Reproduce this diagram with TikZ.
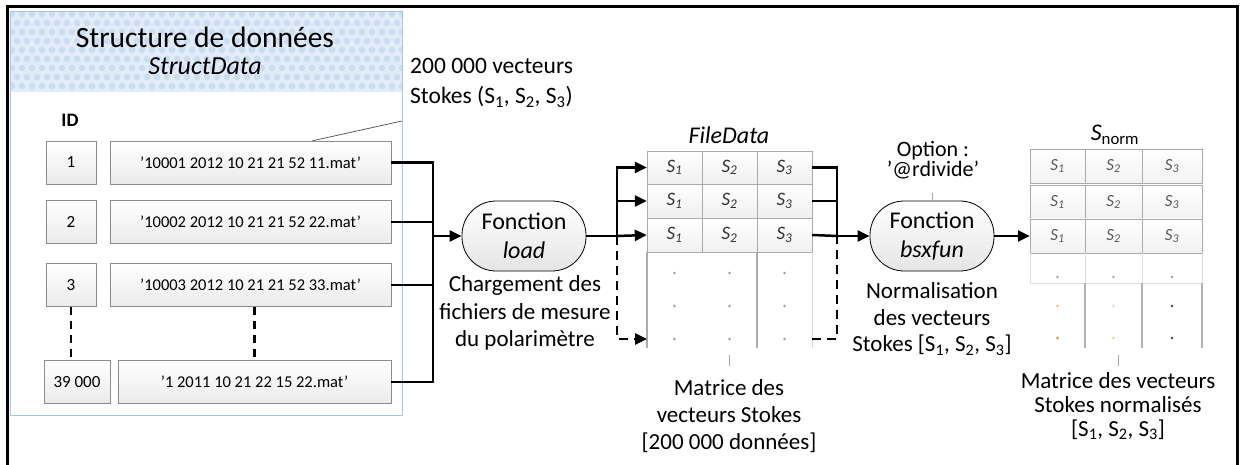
\documentclass[tikz,border=0pt]{standalone}
\usepackage{fontspec}
\setmainfont{Carlito}
\usetikzlibrary{arrows.meta,calc}

\definecolor{panelblue}{RGB}{165,196,230}
\definecolor{headblue}{RGB}{226,236,248}
\definecolor{dotblue}{RGB}{204,221,242}
\definecolor{boxline}{RGB}{140,140,140}
\definecolor{gridg}{RGB}{170,170,170}
\definecolor{dA}{RGB}{140,165,190}
\definecolor{dB}{RGB}{150,175,200}
\definecolor{dC}{RGB}{235,180,120}
\definecolor{dD}{RGB}{190,225,235}
\definecolor{dE}{RGB}{200,130,80}
\definecolor{dF}{RGB}{240,200,140}

\begin{document}
\begin{tikzpicture}[x=1pt,y=-1pt,
  conn/.style={line width=2.5pt},
  arr/.style={conn,-{Triangle[length=12pt,width=11pt]}},
  dconn/.style={conn,dash pattern=on 9pt off 6pt},
  darr/.style={dconn,-{Triangle[length=12pt,width=11pt]}},
  idbox/.style={draw=boxline, top color=white, bottom color=gray!16, minimum height=43pt, inner sep=0pt, font=\fontsize{17}{19}\selectfont},
  filebox/.style={idbox, font=\fontsize{16.5}{18}\selectfont},
  func/.style={draw=black, line width=0.8pt, rounded corners=34pt, top color=white, bottom color=gray!20, minimum width=124pt, minimum height=70pt, align=center, inner sep=0pt, font=\fontsize{24}{29}\selectfont},
  fdcell/.style={draw=gridg, top color=white, bottom color=gray!12, minimum height=33.5pt, inner sep=0pt, text=black!80, font=\itshape\fontsize{19}{20}\selectfont},
  sncell/.style={draw=gridg, top color=white, bottom color=gray!10, minimum height=34pt, inner sep=0pt, text=black!65, font=\itshape\fontsize{17}{18}\selectfont},
  txt/.style={align=center, inner sep=0pt, font=\fontsize{23}{27}\selectfont},
  tick/.style={draw=gray!70, line width=0.8pt},
  dotnode/.style={circle, fill=#1, inner sep=0pt, minimum size=2.6pt}
]
\useasboundingbox (0,0) rectangle (1245,465);

% outer frame
\draw[line width=3pt] (7,466) -- (7,7) -- (1237,7) -- (1237,466);

% panel
\fill[white] (10,12) rectangle (402,415);
\begin{scope}
  \clip (10,12) rectangle (402,92);
  \fill[headblue] (10,12) rectangle (402,92);
  \foreach \i in {0,...,40}
    \foreach \j in {0,...,8}{
      \pgfmathsetmacro{\off}{mod(\j,2)*5}
      \fill[dotblue] (12+\i*10+\off, 14+\j*9) circle (3.3);
    }
\end{scope}
\draw[panelblue, line width=1pt] (10,12) rectangle (402,415);

\node[txt, font=\fontsize{29.5}{32}\selectfont] (title) at (205,37) {Structure de données};
\node[txt, font=\itshape\fontsize{26}{30}\selectfont] (sdname) at (205,66) {StructData};
\node[txt, font=\bfseries\fontsize{19}{22}\selectfont] (idlab) at (70,120) {ID};

% rows
\node[idbox, minimum width=50pt] (id1) at (71,162.5) {1};
\node[idbox, minimum width=50pt] (id2) at (71,222) {2};
\node[idbox, minimum width=50pt] (id3) at (71,285) {3};
\node[idbox, minimum width=66pt] (id4) at (77,382) {39 000};

\node[filebox, minimum width=281pt] (f1) at (250.5,162.5) {'10001 2012 10 21 21 52 11.mat'};
\node[filebox, minimum width=281pt] (f2) at (250.5,222) {'10002 2012 10 21 21 52 22.mat'};
\node[filebox, minimum width=281pt] (f3) at (250.5,285) {'10003 2012 10 21 21 52 33.mat'};
\node[filebox, minimum width=273pt] (f4) at (254.5,382) {'1 2011 10 21 22 15 22.mat'};

\draw[dconn, dash pattern=on 8pt off 6pt] (id3.south) -- (id3.south |- id4.north);
\draw[dconn, dash pattern=on 8pt off 6pt] (f4.north |- f3.south) -- (f4.north);

% callout
\coordinate (callout) at (402,121);
\draw[black!70, line width=0.7pt] ($(f1.north west)!0.72!(f1.north east)$) -- (callout);
\node[txt, align=left, anchor=west, font=\fontsize{23.5}{30}\selectfont] (vect) at (410,83)
  {200 000 vecteurs\\Stokes (S\textsubscript{1}, S\textsubscript{2}, S\textsubscript{3})};

% function load
\node[func] (load) at (524,236) {Fonction\\\textit{load}};
\node[txt, font=\fontsize{23}{27.5}\selectfont] (loadnote) at (525,313) {Chargement des\\fichiers de mesure\\du polarimètre};

% bus from files
\coordinate (bus) at (433,236);
\draw[conn] (f1.east) -| (bus);
\draw[conn] (f2.east) -| (bus);
\draw[conn] (f3.east) -| (bus);
\draw[conn] (f4.east) -| (bus);
\draw[arr] (bus) -- (load.west);

% FileData table
\node[txt, font=\itshape\fontsize{24}{28}\selectfont] (fdtitle) at (729,135) {FileData};
\foreach \r/\y in {1/167.5,2/201,3/235}
  \foreach \c/\x in {1/674.5,2/729.5,3/784.5}
    \node[fdcell, minimum width=55pt] (fd-\r-\c) at (\x,\y) {S\textsubscript{\c}};
\draw[gray!30, line width=1pt] (812,252) -- (812,348);
\draw[gray!65, line width=1.8pt] (647,252) -- (647,348) (757,252) -- (757,348);
\foreach \r/\y in {1/273,2/306,3/339}
  \foreach \c/\x in {1/674.5,2/729.5,3/784.5}
    \node[dotnode=gray!80] (fdd-\r-\c) at (\x,\y) {};
\coordinate (fdin) at (647,339);
\coordinate (fdout) at (812,339);

\node[txt, font=\fontsize{23}{27}\selectfont] (fdnote) at (729,416) {Matrice des\\vecteurs Stokes\\{[}200 000 données{]}};
\draw[tick] (729,355) -- (729,366);

% connectors load -> FileData
\coordinate (j2) at (617,236);
\draw[conn] (load.east) -- (j2);
\draw[arr] (j2) |- (fd-1-1.west);
\draw[arr] (j2) |- (fd-2-1.west);
\draw[arr] (j2) -- (fd-3-1.west);
\draw[darr] (j2) |- (fdin);

% function bsxfun
\node[func] (bsx) at (932,236) {Fonction\\\textit{bsxfun}};
\node[txt, font=\fontsize{22}{19}\selectfont] (opt) at (933,160) {Option :\\'@rdivide'};
\draw[tick] (bsx.north) -- ++(0,-8);
\node[txt, font=\fontsize{23}{26.5}\selectfont] (bsxnote) at (932,319) {Normalisation\\des vecteurs\\Stokes {[}S\textsubscript{1}, S\textsubscript{2}, S\textsubscript{3}{]}};

\coordinate (j3) at (837,236);
\draw[conn] (fd-1-3.east) -| (j3);
\draw[conn] (fd-2-3.east) -| (j3);
\draw[conn] (fd-3-3.east) -- (j3);
\draw[dconn] (fdout) -| (j3);
\draw[arr] (j3) -- (bsx.west);

% Snorm table
\node[txt, font=\fontsize{24}{28}\selectfont] (sntitle) at (1115,135) {\textit{S}\textsubscript{norm}};
\foreach \r/\y in {1/166,2/202,3/236}
  \foreach \c/\x/\w in {1/1057.5/55,2/1113.5/57,3/1172/60}
    \node[sncell, minimum width=\w pt] (sn-\r-\c) at (\x,\y) {S\textsubscript{\c}};
\draw[gray!25, line width=0.8pt] (1030,253) -- (1030,283) (1085,253) -- (1085,283) (1142,253) -- (1142,283) (1202,253) -- (1202,283) (1030,283) -- (1202,283);
\draw[gray!60, line width=1.5pt] (1085,283) -- (1085,348) (1142,283) -- (1142,348) (1202,283) -- (1202,348);
\node[dotnode=dA] (snd-1-1) at (1057.5,277) {};
\node[dotnode=dB] (snd-1-2) at (1113.5,277) {};
\node[dotnode=gray!80] (snd-1-3) at (1172,277) {};
\node[dotnode=dC] (snd-2-1) at (1057.5,306) {};
\node[dotnode=dD] (snd-2-2) at (1113.5,306) {};
\node[dotnode=black!75] (snd-2-3) at (1172,306) {};
\node[dotnode=dE] (snd-3-1) at (1057.5,338) {};
\node[dotnode=dF] (snd-3-2) at (1113.5,338) {};
\node[dotnode=black!75] (snd-3-3) at (1172,338) {};

\draw[arr] (bsx.east) -- (sn-3-1.west);

\node[txt, font=\fontsize{23}{24}\selectfont] (snnote) at (1118,406) {Matrice des vecteurs\\Stokes normalisés\\{[}S\textsubscript{1}, S\textsubscript{2}, S\textsubscript{3}{]}};
\draw[tick] (1118,355) -- (1118,366);
\end{tikzpicture}
\end{document}
